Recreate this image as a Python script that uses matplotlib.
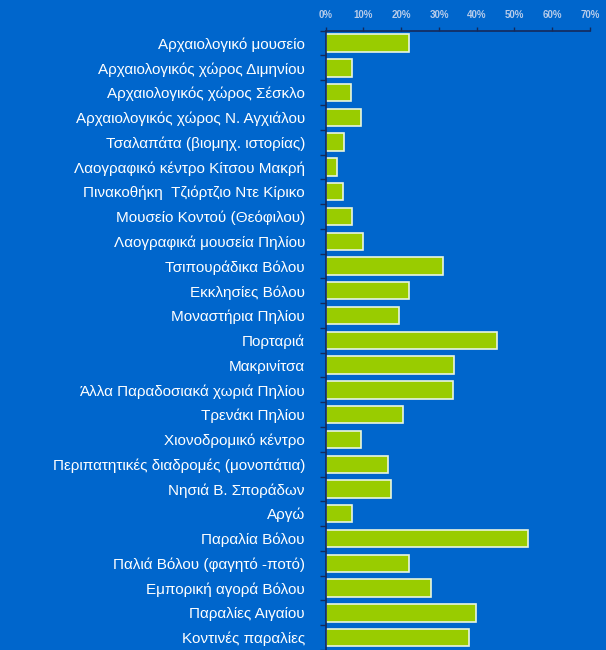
import numpy as np
import matplotlib
matplotlib.use("Agg")
import matplotlib.pyplot as plt
from matplotlib.ticker import FixedLocator, PercentFormatter

# categories, top to bottom
places = [
    "Αρχαιολογικό μουσείο",
    "Αρχαιολογικός χώρος Διμηνίου",
    "Αρχαιολογικός χώρος Σέσκλο",
    "Αρχαιολογικός χώρος Ν. Αγχιάλου",
    "Τσαλαπάτα (βιομηχ. ιστορίας)",
    "Λαογραφικό κέντρο Κίτσου Μακρή",
    "Πινακοθήκη  Τζιόρτζιο Ντε Κίρικο",
    "Μουσείο Κοντού (Θεόφιλου)",
    "Λαογραφικά μουσεία Πηλίου",
    "Τσιπουράδικα Βόλου",
    "Εκκλησίες Βόλου",
    "Μοναστήρια Πηλίου",
    "Πορταριά",
    "Μακρινίτσα",
    "Άλλα Παραδοσιακά χωριά Πηλίου",
    "Τρενάκι Πηλίου",
    "Χιονοδρομικό κέντρο",
    "Περιπατητικές διαδρομές (μονοπάτια)",
    "Νησιά Β. Σποράδων",
    "Αργώ",
    "Παραλία Βόλου",
    "Παλιά Βόλου (φαγητό -ποτό)",
    "Εμπορική αγορά Βόλου",
    "Παραλίες Αιγαίου",
    "Κοντινές παραλίες",
]
# percentage of answers
share = [22.1, 6.9, 6.8, 9.3, 4.9, 2.9, 4.6, 6.9, 10.0, 31.0, 22.1, 19.4, 45.4,
         34.0, 33.7, 20.5, 9.3, 16.6, 17.3, 6.9, 53.5, 22.0, 27.9, 39.8, 38.0]
xticks = [0, 10, 20, 30, 40, 50, 60, 70]

bg = "#0066CC"
bar_col = "#99CC00"
line_col = "#15295A"

plt.rcParams["font.family"] = ["Liberation Sans", "DejaVu Sans"]

fig = plt.figure(figsize=(6.06, 6.5), dpi=100, facecolor=bg)
ax = fig.add_axes([0.5375, 0.0, 0.4361, 0.9528], facecolor=bg)

y = np.arange(len(places))
ax.barh(y, share, height=0.7, color=bar_col, edgecolor="#E8F4E0", linewidth=1.2)

ax.set_xlim(0, 70)
ax.set_ylim(len(places) - 0.5, -0.5)

ax.xaxis.tick_top()
ax.set_xticks(xticks)
ax.xaxis.set_major_formatter(PercentFormatter(decimals=0))
ax.tick_params(axis="x", colors=line_col, length=3, width=1, direction="out",
               labelsize=7, labelcolor="#B8CCEA", pad=5)
for lab in ax.get_xticklabels():
    lab.set_fontweight("bold")

ax.set_yticks(y)
ax.set_yticklabels(places)
ax.yaxis.set_minor_locator(FixedLocator(np.arange(-0.5, len(places), 1.0)))
ax.tick_params(axis="y", which="major", length=0, labelsize=11,
               labelcolor="white", pad=15)
ax.tick_params(axis="y", which="minor", length=4, width=1, color=line_col,
               direction="out")

for side in ["right", "bottom"]:
    ax.spines[side].set_visible(False)
for side in ["top", "left"]:
    ax.spines[side].set_color(line_col)
    ax.spines[side].set_linewidth(1.2)

fig.savefig("out.png", dpi=100, facecolor=bg)
